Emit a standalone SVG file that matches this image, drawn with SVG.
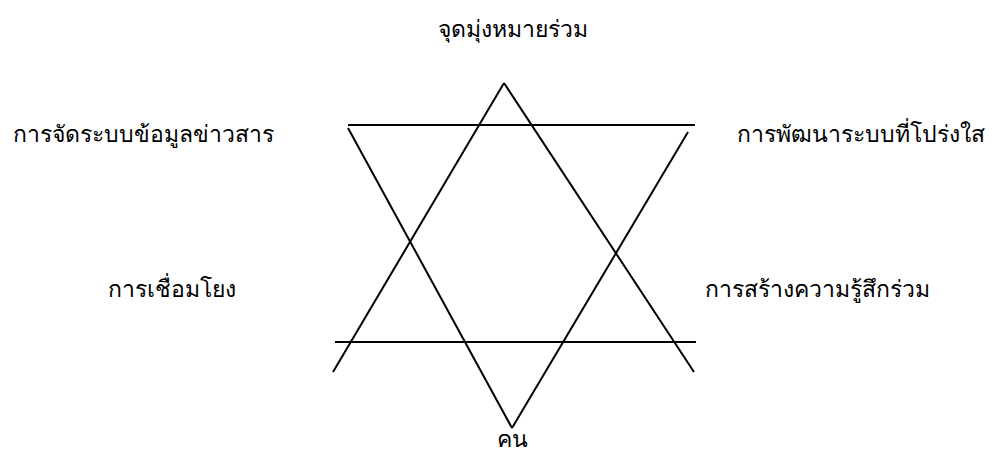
<svg xmlns="http://www.w3.org/2000/svg" width="994" height="451" viewBox="0 0 994 451">
<style>
.l{stroke:#000;stroke-width:2;fill:none;stroke-linecap:butt}
text{font-family:"Noto Sans","DejaVu Sans",sans-serif;font-size:23px;font-weight:300;fill:#000}
</style>
<rect width="994" height="451" fill="#fff"/>
<g id="connectors">
<line class="l" x1="348" y1="125" x2="695" y2="125"/>
<line class="l" x1="348" y1="128" x2="512" y2="428"/>
<line class="l" x1="688" y1="132" x2="512" y2="428"/>
<line class="l" x1="504" y1="83" x2="333" y2="372"/>
<line class="l" x1="504" y1="83" x2="694" y2="372"/>
<line class="l" x1="335" y1="342" x2="696" y2="342"/>
</g>
<g id="n-top"><text x="513" y="37" text-anchor="middle">จุดมุ่งหมายร่วม</text></g>
<g id="n-tl"><text x="13" y="142">การจัดระบบข้อมูลข่าวสาร</text></g>
<g id="n-tr"><text x="737" y="142">การพัฒนาระบบที่โปร่งใส</text></g>
<g id="n-ml"><text x="108" y="297">การเชื่อมโยง</text></g>
<g id="n-mr"><text x="705" y="297">การสร้างความรู้สึกร่วม</text></g>
<g id="n-bottom"><text x="512" y="447" text-anchor="middle">คน</text></g>
</svg>
